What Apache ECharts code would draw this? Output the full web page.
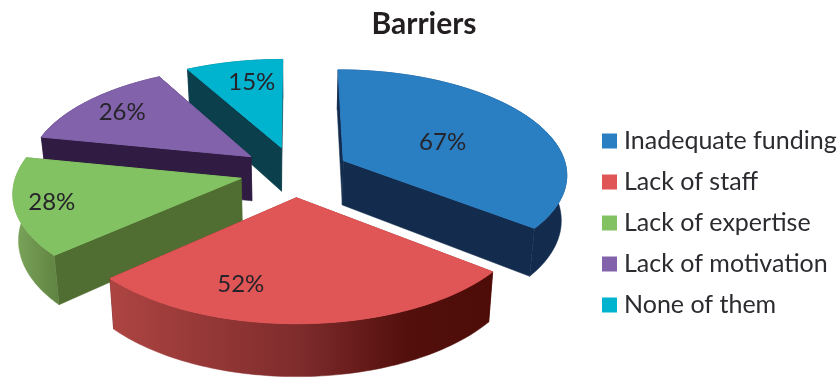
<!DOCTYPE html>
<html>
<head>
<meta charset="utf-8">
<style>html,body{margin:0;padding:0;background:#fff}#chart{width:838px;height:381px}</style>
<script src="https://cdn.jsdelivr.net/npm/echarts@6/dist/echarts.min.js"></script>
</head>
<body>
<div id="chart"></div>
<script>
// Survey answers, in legend order
const categories = ['Inadequate funding', 'Lack of staff', 'Lack of expertise', 'Lack of motivation', 'None of them'];
const percents = [67, 52, 28, 26, 15];

// Slice styling, same order as the categories
const topColors = ['#2a7ec2', '#e05555', '#82c262', '#8263ab', '#00b3cf'];
const wallColors = ['#132c4e', '#5a120e', '#506e32', '#301c42', '#0c3f4c'];
const rimStops = [
  [[0, '#132c4e'], [1, '#132c4e']],
  [[0, '#ad4542'], [0.5, '#7e2b2c'], [0.78, '#520f0b'], [1, '#4e0c08']],
  [[0, '#7ca65c'], [1, '#5f8240']],
  [[0, '#301c42'], [1, '#301c42']],
  [[0, '#0c3f4c'], [1, '#0c3f4c']]
];
// Painter's order: slices further from the viewer get a lower z
const paintOrder = [4, 5, 3, 2, 1];
// Label placement on the top face: radius fraction and angle shift in degrees
const labelRadius = [0.50, 0.75, 0.84, 0.78, 0.74];
const labelShift = [4, 19, 0, 0, 2.5];

// Tilted pie camera
const CX = 294.5, CY = 171.5, RX = 224, RZ = 104;
const EXPLODE = 0.245, DEPTH = 45, PERSPECTIVE = 0.12, LOWER_SCALE = 0.98;

const total = percents.reduce(function (a, b) { return a + b; }, 0);
const starts = [];
percents.reduce(function (sum, v, i) { starts[i] = sum; return sum + v; }, 0);

// The underside of the pie sits further from the camera, so it is slightly narrower
function project(x, z, drop) {
  const s = 1 / (1 - PERSPECTIVE * z);
  const narrow = 1 - (1 - LOWER_SCALE) * drop;
  return [CX + RX * x * s * narrow, CY + RZ * z * s + drop * DEPTH * s];
}

function sliceGeometry(i) {
  const a0 = starts[i] / total * 2 * Math.PI;
  const a1 = (starts[i] + percents[i]) / total * 2 * Math.PI;
  const mid = (a0 + a1) / 2;
  const ox = EXPLODE * Math.sin(mid), oz = -EXPLODE * Math.cos(mid);
  const point = function (r, a, drop) {
    return project(ox + r * Math.sin(a), oz - r * Math.cos(a), drop);
  };
  const arc = function (drop) {
    const pts = [];
    const n = 80;
    for (let k = 0; k <= n; k++) pts.push(point(1, a0 + (a1 - a0) * k / n, drop));
    return pts;
  };
  return { a0: a0, a1: a1, mid: mid, point: point, arc: arc };
}

// A thin edge in the fill colour closes the seams between neighbouring faces
function poly(points, fill, edgeWidth) {
  return {
    type: 'polygon',
    shape: { points: points },
    style: { fill: fill, stroke: fill, lineWidth: edgeWidth },
    silent: true
  };
}

function renderSlice(i) {
  return function (params, api) {
    const g = sliceGeometry(i);
    const top = g.arc(0), low = g.arc(1);
    const apex = g.point(0, 0, 0), apexLow = g.point(0, 0, 1);
    const rimFill = new echarts.graphic.LinearGradient(0, 0, 1, 0,
      rimStops[i].map(function (s) { return { offset: s[0], color: s[1] }; }));
    const labelAngle = g.mid + labelShift[i] * Math.PI / 180;
    const labelPos = g.point(labelRadius[i], labelAngle, 0);
    return {
      type: 'group',
      children: [
        poly([apex, apexLow, low[0], top[0]], wallColors[i], 0.5),
        poly([apex, apexLow, low[low.length - 1], top[top.length - 1]], wallColors[i], 0.5),
        poly(top.concat(low.slice().reverse()), rimFill, 0.5),
        poly([apex].concat(top), topColors[i], 1),
        {
          type: 'text',
          silent: true,
          style: {
            x: labelPos[0], y: labelPos[1],
            text: api.value(0) + '%',
            fill: '#26242a',
            font: '24px Lato',
            align: 'center',
            verticalAlign: 'middle'
          }
        }
      ]
    };
  };
}

const chart = echarts.init(document.getElementById('chart'), null, { renderer: 'canvas' });
chart.setOption({
  animation: false,
  backgroundColor: '#ffffff',
  title: {
    text: 'Barriers',
    left: 419,
    top: 4,
    textAlign: 'center',
    textStyle: { fontFamily: 'Lato', fontWeight: 'bold', fontSize: 30, color: '#231f20' }
  },
  legend: {
    orient: 'vertical',
    left: 602,
    top: 127,
    padding: 0,
    itemWidth: 15,
    itemHeight: 15,
    itemGap: 13,
    icon: 'rect',
    selectedMode: false,
    data: categories,
    textStyle: { fontFamily: 'Lato', fontSize: 25, color: '#2b2b30', padding: [0, 0, 0, 2], lineHeight: 28 }
  },
  series: categories.map(function (name, i) {
    return {
      type: 'custom',
      name: name,
      coordinateSystem: 'none',
      z: paintOrder[i],
      itemStyle: { color: topColors[i] },
      renderItem: renderSlice(i),
      data: [[percents[i]]]
    };
  })
});
</script>
</body>
</html>
